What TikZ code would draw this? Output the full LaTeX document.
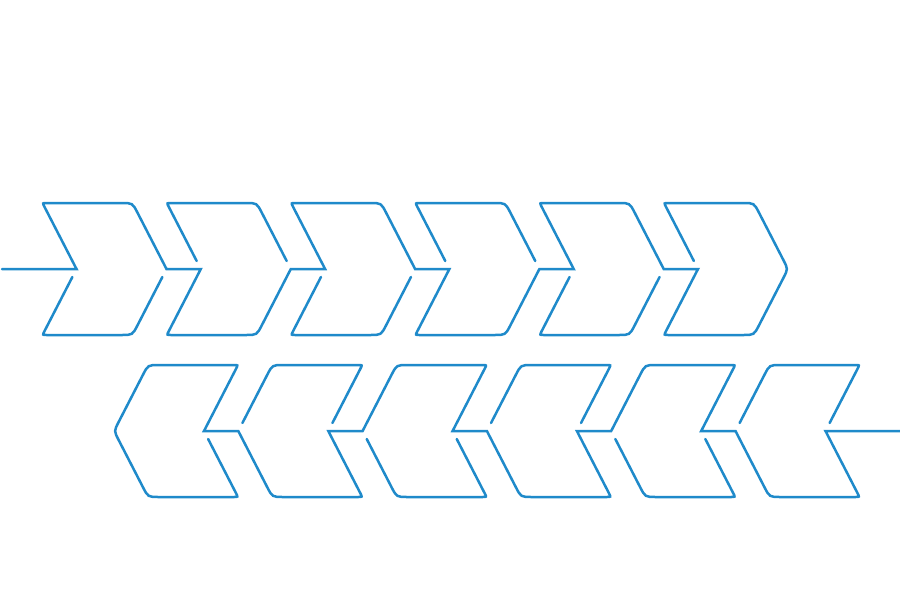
\documentclass[tikz,border=0pt]{standalone}
\usetikzlibrary{calc}
\definecolor{chevblue}{RGB}{31,138,202}
\newcommand\rnd[4]{-- ($(#1)!#4!(#2)$) .. controls (#1) .. ($(#1)!#4!(#3)$)}
\newcommand\chevrow[1]{%
  \foreach \i in {1,...,6} {
    \pgfmathsetmacro\xo{42.5+124.3*(\i-1)}
    \coordinate (#1TL\i) at (\xo,203);
    \coordinate (#1TR\i) at (\xo+90,203);
    \coordinate (#1T\i) at (\xo+124,269);
    \coordinate (#1BR\i) at (\xo+90,335);
    \coordinate (#1BL\i) at (\xo,335);
    \coordinate (#1N\i) at (\xo+34,269);
  }
  \coordinate (#1S) at (2,269);
  % main thread
  \draw[chev] (#1S) -- (#1N1)
    \rnd{#1TL1}{#1N1}{#1TR1}{4pt} \rnd{#1TR1}{#1TL1}{#1T1}{11pt} -- (#1T1) -- (#1N2)
    \rnd{#1BL2}{#1N2}{#1BR2}{4pt} \rnd{#1BR2}{#1BL2}{#1T2}{11pt} -- (#1T2) -- (#1N3)
    \rnd{#1TL3}{#1N3}{#1TR3}{4pt} \rnd{#1TR3}{#1TL3}{#1T3}{11pt} -- (#1T3) -- (#1N4)
    \rnd{#1BL4}{#1N4}{#1BR4}{4pt} \rnd{#1BR4}{#1BL4}{#1T4}{11pt} -- (#1T4) -- (#1N5)
    \rnd{#1TL5}{#1N5}{#1TR5}{4pt} \rnd{#1TR5}{#1TL5}{#1T5}{11pt} -- (#1T5) -- (#1N6)
    \rnd{#1BL6}{#1N6}{#1BR6}{4pt} \rnd{#1BR6}{#1BL6}{#1T6}{11pt}
    \rnd{#1T6}{#1BR6}{#1TR6}{10pt} \rnd{#1TR6}{#1T6}{#1TL6}{11pt}
    \rnd{#1TL6}{#1TR6}{#1N6}{4pt} -- ($(#1N6)!9pt!(#1TL6)$);
  % broken halves
  \foreach \i in {1,3,5} {
    \draw[chev] ($(#1N\i)!9pt!(#1BL\i)$) \rnd{#1BL\i}{#1N\i}{#1BR\i}{4pt}
      \rnd{#1BR\i}{#1BL\i}{#1T\i}{11pt} -- ($(#1T\i)!9pt!(#1BR\i)$);
  }
  \foreach \i in {2,4} {
    \draw[chev] ($(#1N\i)!9pt!(#1TL\i)$) \rnd{#1TL\i}{#1N\i}{#1TR\i}{4pt}
      \rnd{#1TR\i}{#1TL\i}{#1T\i}{11pt} -- ($(#1T\i)!9pt!(#1TR\i)$);
  }
}
\begin{document}
\begin{tikzpicture}[x=1pt,y=-1pt,
  chev/.style={draw=chevblue,line width=2.5pt,line cap=round}]
\useasboundingbox (0,0) rectangle (900,600);
\chevrow{a}
\begin{scope}[rotate around={180:(451,350)}]
\chevrow{b}
\end{scope}
\end{tikzpicture}
\end{document}
